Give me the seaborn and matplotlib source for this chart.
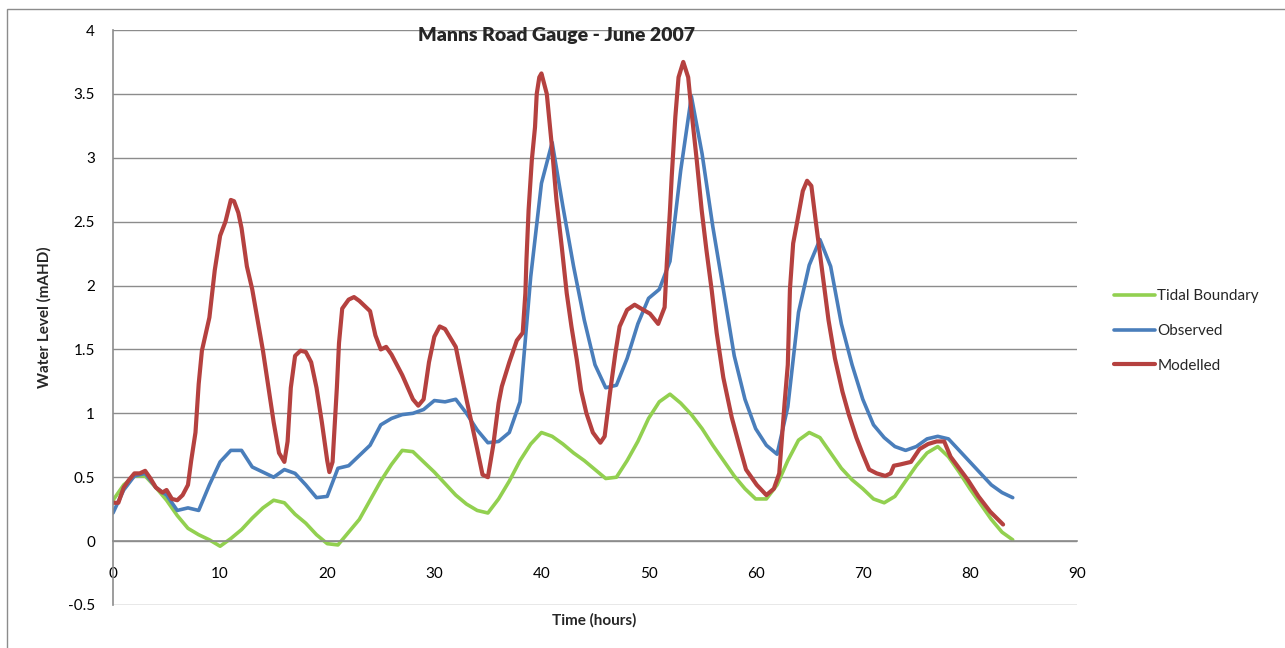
import numpy as np
import pandas as pd
import matplotlib
matplotlib.use("Agg")
import matplotlib.pyplot as plt
from matplotlib.patches import Rectangle
import seaborn as sns

# ── données ─────────────────────────────────────────────────────
hours = list(range(0, 85))

tidal = [0.32, 0.44, 0.51, 0.51, 0.42, 0.32, 0.20, 0.10, 0.05, 0.01,
         -0.04, 0.02, 0.09, 0.18, 0.26, 0.32, 0.30, 0.21, 0.14, 0.05,
         -0.02, -0.03, 0.07, 0.17, 0.32, 0.47, 0.60, 0.71, 0.70, 0.62,
         0.54, 0.45, 0.36, 0.29, 0.24, 0.22, 0.33, 0.47, 0.63, 0.76,
         0.85, 0.82, 0.76, 0.69, 0.63, 0.56, 0.49, 0.50, 0.63, 0.78,
         0.96, 1.09, 1.15, 1.08, 0.99, 0.88, 0.75, 0.63, 0.51, 0.41,
         0.33, 0.33, 0.44, 0.63, 0.79, 0.85, 0.81, 0.69, 0.57, 0.48,
         0.41, 0.33, 0.30, 0.35, 0.47, 0.59, 0.69, 0.74, 0.66, 0.54,
         0.41, 0.29, 0.17, 0.07, 0.01]

observed = [0.22, 0.40, 0.51, 0.53, 0.42, 0.36, 0.24, 0.26, 0.24, 0.44,
            0.62, 0.71, 0.71, 0.58, 0.54, 0.50, 0.56, 0.53, 0.44, 0.34,
            0.35, 0.57, 0.59, 0.67, 0.75, 0.91, 0.96, 0.99, 1.00, 1.03,
            1.10, 1.09, 1.11, 1.00, 0.87, 0.77, 0.78, 0.85, 1.09, 2.07,
            2.80, 3.12, 2.62, 2.15, 1.73, 1.38, 1.20, 1.22, 1.43, 1.70,
            1.90, 1.97, 2.19, 2.90, 3.48, 3.03, 2.46, 1.96, 1.45, 1.11,
            0.88, 0.75, 0.68, 1.05, 1.79, 2.16, 2.36, 2.15, 1.70, 1.38,
            1.11, 0.91, 0.81, 0.74, 0.71, 0.74, 0.80, 0.82, 0.80, 0.71,
            0.62, 0.53, 0.44, 0.38, 0.34]

model_t = [0, 0.5, 1, 1.5, 2, 2.5, 3, 3.5, 4, 4.6, 5, 5.5, 6, 6.5, 7, 7.3,
           7.7, 8, 8.3, 9, 9.5, 10, 10.5, 11, 11.3, 11.7, 12, 12.5, 13, 14,
           15, 15.5, 16, 16.3, 16.6, 17, 17.5, 18, 18.5, 19, 19.5, 20, 20.2,
           20.5, 20.9, 21.1, 21.4, 22, 22.5, 23, 24, 24.5, 25, 25.5, 26, 27,
           28, 28.5, 29, 29.5, 30, 30.5, 31, 32, 33, 34, 34.5, 35, 35.5, 36,
           36.3, 37, 37.7, 38.25, 38.5, 38.6, 38.8, 39.1, 39.4, 39.56, 39.8,
           40, 40.5, 40.95, 41.4, 41.9, 42.36, 42.8, 43.3, 43.7, 44.2, 44.8,
           45.5, 45.9, 46.4, 46.9, 47.3, 48, 48.7, 49.5, 50.13, 50.9, 51.5,
           51.7, 52, 52.16, 52.5, 52.8, 53.24, 53.7, 54, 54.5, 54.96, 55.4,
           55.9, 56.36, 56.98, 57.76, 58.5, 59.1, 60.1, 61, 61.7, 62.2, 62.7,
           63, 63.2, 63.5, 63.9, 64.4, 64.8, 65.2, 65.6, 66.2, 66.8, 67.4,
           68.1, 68.7, 69.4, 70, 70.6, 71.3, 72.1, 72.6, 72.9, 73.5, 74.5,
           75.3, 76.1, 76.9, 77.6, 78.2, 79, 79.8, 80.8, 81.9, 83.1]

model_v = [0.30, 0.30, 0.42, 0.48, 0.53, 0.53, 0.55, 0.49, 0.42, 0.38, 0.40,
           0.33, 0.32, 0.36, 0.44, 0.63, 0.85, 1.23, 1.49, 1.75, 2.12, 2.39,
           2.50, 2.67, 2.66, 2.57, 2.45, 2.15, 1.97, 1.49, 0.93, 0.69, 0.62,
           0.78, 1.20, 1.45, 1.49, 1.48, 1.40, 1.20, 0.93, 0.63, 0.54, 0.62,
           1.20, 1.55, 1.82, 1.89, 1.91, 1.88, 1.80, 1.61, 1.50, 1.52, 1.46,
           1.30, 1.11, 1.06, 1.11, 1.40, 1.60, 1.68, 1.66, 1.52, 1.11, 0.72,
           0.52, 0.50, 0.75, 1.08, 1.21, 1.40, 1.57, 1.63, 1.94, 2.20, 2.59,
           2.98, 3.24, 3.50, 3.63, 3.66, 3.50, 3.11, 2.67, 2.30, 1.94, 1.68,
           1.42, 1.18, 1.00, 0.85, 0.77, 0.82, 1.16, 1.47, 1.68, 1.81, 1.85,
           1.81, 1.78, 1.70, 1.83, 2.17, 2.59, 2.85, 3.32, 3.63, 3.75, 3.63,
           3.37, 2.98, 2.59, 2.28, 1.96, 1.63, 1.28, 0.97, 0.74, 0.56, 0.44,
           0.36, 0.41, 0.53, 1.08, 1.38, 1.97, 2.33, 2.51, 2.74, 2.82, 2.78,
           2.51, 2.12, 1.73, 1.43, 1.17, 0.99, 0.81, 0.68, 0.56, 0.53, 0.51,
           0.53, 0.59, 0.60, 0.62, 0.72, 0.76, 0.78, 0.78, 0.66, 0.57, 0.48,
           0.35, 0.23, 0.13]

x_ticks = list(range(0, 91, 10))
y_ticks = [-0.5, 0, 0.5, 1, 1.5, 2, 2.5, 3, 3.5, 4]

GREEN = "#92d050"
BLUE = "#4a7ebb"
RED = "#b5413f"
GRID = "#8c8c8c"

# ── style ───────────────────────────────────────────────────────
sns.set_style("white")
plt.rcParams["font.family"] = ["Lato", "DejaVu Sans"]

fig = plt.figure(figsize=(12.85, 6.48), dpi=100)
ax = fig.add_axes([113 / 1285, 1 - 605 / 648, (1077 - 113) / 1285, (605 - 30) / 648])

sns.lineplot(x=hours, y=tidal, ax=ax, color=GREEN, lw=2.6, label="Tidal Boundary")
sns.lineplot(x=hours, y=observed, ax=ax, color=BLUE, lw=2.6, label="Observed")
sns.lineplot(x=model_t, y=model_v, ax=ax, color=RED, lw=3.0, label="Modelled")

ax.set_xlim(0, 90)
ax.set_ylim(-0.5, 4)
ax.set_xticks(x_ticks)
ax.set_yticks(y_ticks)
ax.set_yticklabels([f"{v:g}" for v in y_ticks])

ax.grid(True, axis="y", color=GRID, lw=1)
ax.set_axisbelow(True)

for s in ["top", "right"]:
    ax.spines[s].set_visible(False)
ax.spines["bottom"].set_position(("data", 0))
ax.spines["bottom"].set_color(GRID)
ax.spines["left"].set_color(GRID)
ax.spines["bottom"].set_linewidth(1.2)
ax.spines["left"].set_linewidth(1.2)

ax.tick_params(axis="both", direction="out", length=5, width=1, color=GRID,
               labelsize=11, labelcolor="black")
ax.tick_params(axis="x", pad=14)
ax.tick_params(axis="y", pad=8)

ax.set_xlabel("")
ax.set_ylabel("")
fig.text(594 / 1285, 1 - 620 / 648, "Time (hours)", ha="center", va="center",
         fontsize=11, fontweight="bold")
fig.text(44 / 1285, 1 - 317 / 648, "Water Level (mAHD)", ha="center", va="center",
         rotation=90, fontsize=11, fontweight="bold")
fig.text(556 / 1285, 1 - 36 / 648, "Manns Road Gauge - June 2007", ha="center",
         va="center", fontsize=14, fontweight="heavy")

handles, labels = ax.get_legend_handles_labels()
ax.get_legend().remove()
fig.legend(handles, labels, loc="center left",
           bbox_to_anchor=(1100 / 1285, 1 - 331 / 648), frameon=False,
           fontsize=11, handlelength=2.7, handletextpad=0.15, labelspacing=1.35)

fig.add_artist(Rectangle((7 / 1285, -0.05), 1.2, 1.05 - 9 / 648,
                         transform=fig.transFigure, fill=False,
                         ec="#8c8c8c", lw=1))

fig.savefig("out.png", dpi=100)
